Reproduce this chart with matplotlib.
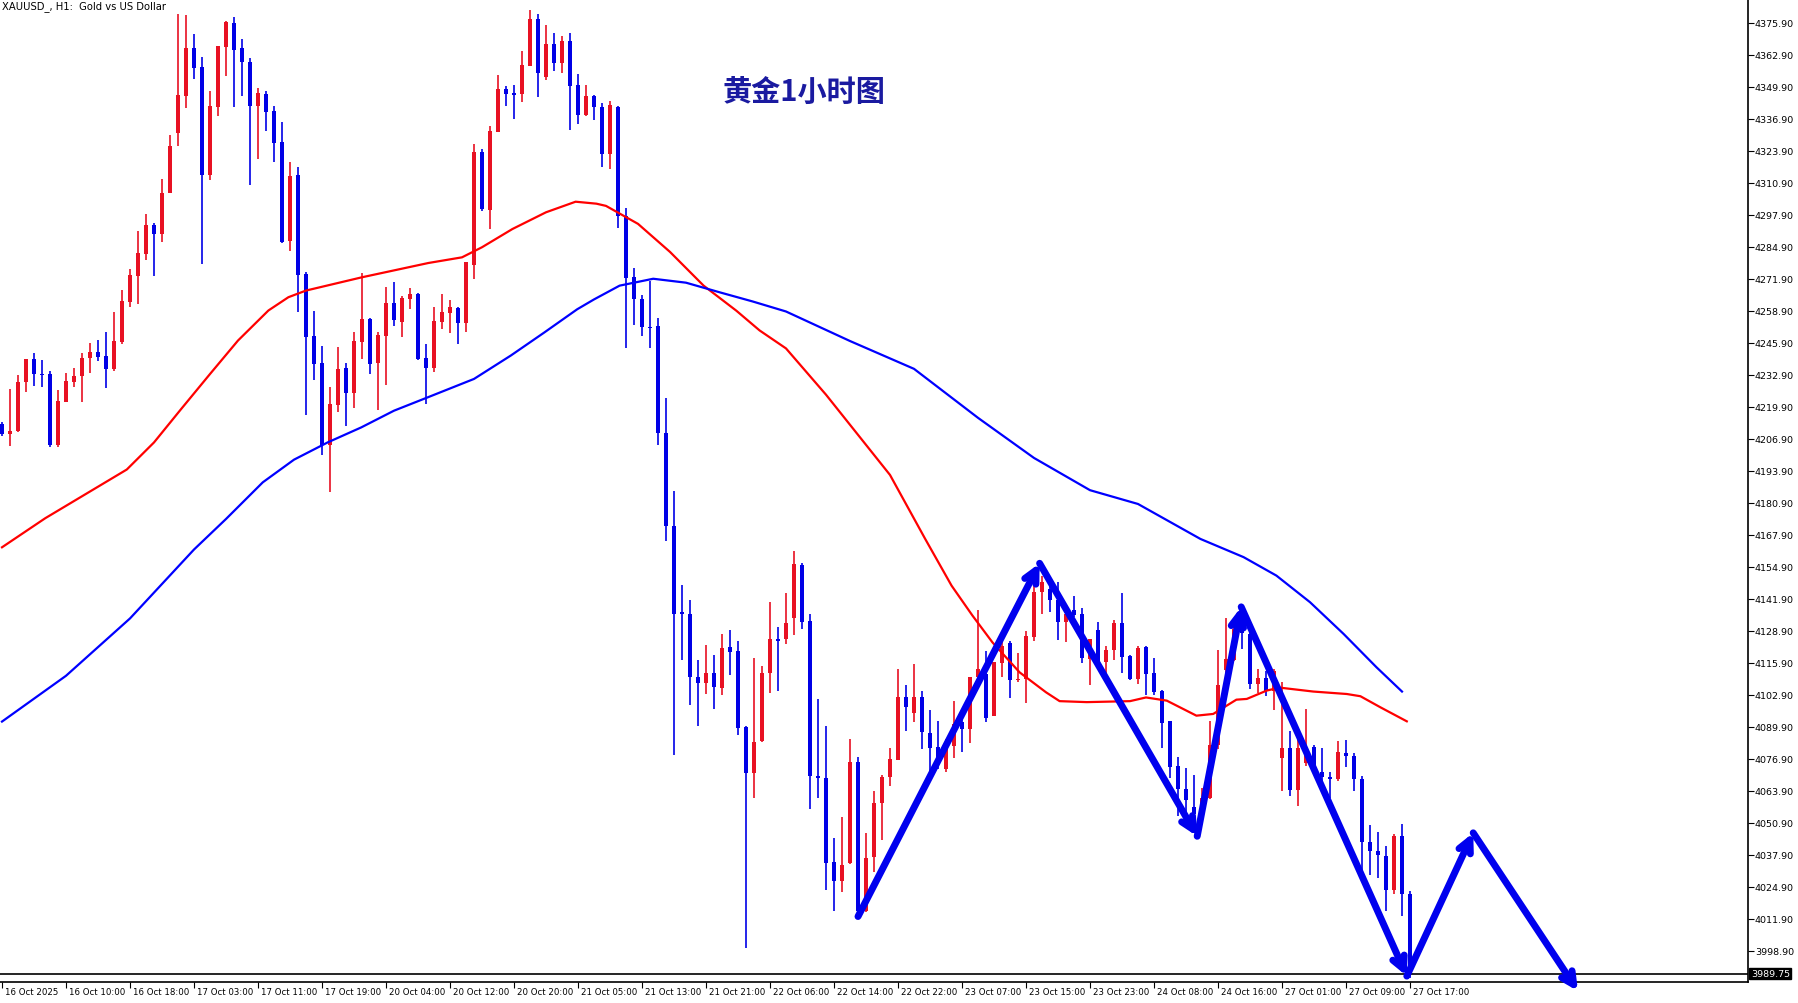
import matplotlib
matplotlib.use("Agg")
import matplotlib.pyplot as plt
import numpy as np

plt.rcParams['font.family'] = ['DejaVu Sans', 'Noto Sans CJK SC']

opens = [4213.0,4209.1,4210.2,4229.9,4239.4,4233.4,4233.3,4204.6,4222.1,4230.2,
4232.3,4239.7,4242.3,4240.6,4235.5,4246.2,4262.7,4273.3,4282.2,4293.9,
4290.3,4306.8,4331.4,4346.4,4365.7,4357.9,4314.0,4341.9,4366.3,4375.9,
4365.7,4360.1,4342.3,4347.1,4340.2,4327.6,4287.5,4314.2,4273.8,4248.6,
4237.6,4204.5,4220.9,4235.6,4225.7,4246.5,4255.7,4237.9,4248.9,4262.2,
4254.6,4263.9,4265.8,4239.8,4235.9,4254.6,4258.2,4260.1,4254.2,4277.7,
4323.4,4300.1,4331.8,4349.1,4347.3,4347.2,4358.6,4377.5,4354.1,4367.4,
4359.8,4368.6,4350.7,4338.7,4346.4,4341.8,4322.6,4341.8,4297.5,4272.9,
4263.8,4252.3,4252.8,4209.4,4171.6,4136.4,4136.0,4110.4,4107.9,4111.8,
4105.8,4122.3,4120.9,4089.9,4071.4,4084.4,4111.8,4125.5,4125.5,4134.3,
4155.7,4133.0,4069.9,4069.1,4035.0,4027.5,4034.6,4075.6,4015.0,4037.0,
4058.9,4069.4,4076.5,4102.1,4095.5,4102.1,4087.5,4081.8,4072.9,4082.1,
4091.8,4089.1,4110.1,4111.5,4094.5,4115.9,4124.1,4108.9,4109.4,4126.6,
4144.6,4146.0,4141.3,4132.5,4137.5,4135.8,4117.6,4129.2,4116.2,4121.3,
4132.2,4118.9,4109.2,4122.2,4111.9,4104.7,4092.4,4074.1,4064.8,4057.3,
4054.5,4061.0,4082.4,4113.2,4117.3,4131.1,4127.7,4107.3,4109.7,4104.7,
4077.2,4081.3,4064.5,4075.3,4081.7,4071.5,4069.6,4068.8,4079.2,4078.0,
4068.8,4043.1,4039.4,4037.4,4023.5,4045.5,4022.0]
highs = [4213.7,4227.2,4232.9,4239.4,4241.9,4239.0,4234.5,4226.9,4233.7,4235.8,
4241.9,4245.9,4247.1,4250.5,4258.4,4267.4,4276.0,4291.5,4298.3,4294.7,
4312.5,4330.4,4379.6,4379.2,4371.4,4362.0,4348.3,4366.6,4376.8,4378.2,
4369.4,4361.5,4349.6,4348.3,4342.3,4335.8,4319.3,4317.5,4274.6,4258.9,
4244.7,4228.0,4244.2,4237.8,4250.5,4274.3,4256.1,4250.5,4268.7,4270.7,
4265.1,4268.3,4266.2,4245.5,4260.5,4265.8,4263.4,4260.5,4278.7,4326.7,
4324.7,4334.1,4354.8,4350.2,4350.7,4364.5,4381.2,4379.6,4375.1,4371.8,
4370.7,4371.8,4355.2,4350.7,4346.8,4343.4,4344.1,4342.3,4300.7,4276.5,
4265.6,4271.1,4256.0,4223.6,4185.7,4147.4,4141.4,4117.0,4123.2,4119.3,
4127.8,4129.3,4125.0,4090.1,4117.9,4114.7,4140.5,4130.7,4144.2,4161.3,
4156.5,4135.7,4101.3,4090.2,4044.8,4053.4,4085.1,4077.6,4046.9,4063.9,
4070.4,4081.4,4113.5,4107.0,4115.5,4104.6,4096.7,4092.4,4085.1,4100.4,
4093.2,4110.2,4137.6,4120.8,4116.5,4125.3,4125.0,4120.0,4128.9,4147.3,
4151.4,4147.3,4148.7,4139.2,4143.3,4138.3,4125.7,4132.7,4122.7,4133.5,
4144.4,4119.2,4123.0,4122.7,4118.1,4105.1,4092.4,4077.6,4073.1,4070.4,
4065.0,4092.4,4121.1,4134.3,4133.8,4135.8,4131.1,4113.5,4112.8,4113.5,
4108.3,4088.2,4085.3,4097.1,4082.4,4081.3,4071.5,4084.2,4084.5,4079.4,
4069.9,4050.1,4047.1,4041.7,4046.5,4050.4,4023.3]
lows = [4208.3,4204.2,4209.6,4225.9,4228.6,4227.9,4203.5,4203.5,4221.8,4228.2,
4221.8,4233.6,4238.7,4227.5,4234.7,4245.4,4260.4,4261.6,4279.8,4273.3,
4287.1,4306.7,4326.1,4341.2,4353.2,4278.0,4312.3,4338.2,4354.5,4341.9,
4346.4,4310.2,4320.7,4332.2,4319.6,4286.5,4283.4,4258.6,4216.7,4231.0,
4200.2,4185.5,4217.7,4212.3,4219.6,4239.4,4233.3,4218.8,4229.0,4253.0,
4248.5,4259.7,4239.0,4221.1,4234.3,4251.6,4250.0,4245.5,4250.5,4271.9,
4299.4,4292.2,4331.8,4342.3,4336.9,4343.9,4358.6,4346.0,4352.9,4356.5,
4355.7,4332.6,4334.9,4338.0,4336.5,4317.2,4316.7,4292.5,4243.7,4253.3,
4248.7,4243.7,4204.4,4165.6,4078.7,4117.2,4098.8,4090.5,4103.3,4097.4,
4102.9,4110.9,4086.7,4000.0,4060.9,4083.9,4103.8,4104.5,4123.6,4127.3,
4129.7,4056.4,4061.2,4023.5,4015.0,4023.0,4034.3,4014.0,4014.6,4030.9,
4043.8,4066.1,4076.3,4088.3,4092.1,4081.0,4068.8,4072.9,4071.8,4077.3,
4079.6,4083.4,4109.7,4092.1,4094.5,4110.1,4101.7,4108.1,4099.7,4125.0,
4135.8,4136.8,4125.4,4124.6,4134.5,4115.9,4107.1,4115.9,4110.8,4117.3,
4111.9,4108.9,4107.5,4102.7,4102.7,4081.3,4069.3,4053.9,4055.3,4053.9,
4053.9,4060.7,4081.0,4109.4,4116.9,4121.6,4105.4,4103.7,4102.4,4096.6,
4063.8,4061.8,4058.0,4074.2,4071.5,4063.4,4061.2,4068.1,4073.7,4063.7,
4029.5,4029.8,4028.7,4015.3,4022.1,4013.0,3988.0]
closes = [4208.9,4210.2,4229.9,4239.4,4233.4,4233.0,4204.6,4222.3,4230.5,4232.5,
4239.8,4242.3,4240.4,4235.5,4246.7,4263.0,4273.5,4282.5,4293.9,4290.3,
4306.8,4325.9,4346.7,4365.7,4357.7,4314.0,4342.2,4366.6,4376.4,4365.1,
4360.2,4342.3,4347.3,4339.9,4327.3,4286.9,4313.8,4273.7,4248.5,4237.5,
4204.5,4221.0,4235.4,4225.7,4246.7,4255.7,4237.5,4249.2,4262.2,4255.4,
4264.2,4265.8,4239.6,4235.9,4254.9,4258.4,4260.4,4254.2,4278.7,4323.4,
4300.5,4331.9,4349.1,4347.2,4346.8,4358.8,4377.5,4355.7,4367.4,4359.8,
4368.6,4350.5,4338.7,4346.1,4341.8,4322.6,4342.7,4297.5,4272.4,4263.8,
4252.3,4251.9,4209.4,4171.6,4136.0,4136.0,4110.4,4107.9,4112.0,4106.3,
4121.8,4120.2,4089.4,4071.4,4083.9,4111.8,4125.5,4125.0,4132.3,4156.1,
4132.7,4069.8,4069.1,4034.6,4027.5,4033.7,4075.6,4015.0,4036.6,4059.1,
4069.6,4076.9,4102.1,4098.2,4102.1,4087.8,4081.5,4076.9,4081.7,4091.0,
4089.1,4110.2,4113.5,4093.6,4116.5,4122.6,4108.8,4109.4,4126.9,4144.6,
4148.7,4141.3,4132.7,4135.8,4135.4,4118.1,4125.7,4116.2,4121.2,4132.2,
4118.5,4109.2,4122.0,4111.3,4104.3,4091.7,4073.7,4064.8,4060.3,4054.5,
4061.0,4082.4,4107.0,4117.6,4129.7,4128.1,4107.3,4109.8,4104.7,4112.8,
4081.3,4064.2,4081.3,4081.3,4072.9,4069.5,4068.8,4079.6,4078.0,4068.8,
4043.1,4039.4,4037.7,4023.5,4045.5,4022.0,3989.75]

ma_red_idx = [0,5.4,10.5,15.6,19,22.4,26,29.5,33.3,35.8,38,45,53.3,57.5,60,63.8,68,71.7,
              74.3,75.5,79.5,83.5,87.7,91.8,94.7,98,103,111,115.4,118.7,121.3,123.8,127.2,
              130.5,132.2,135.6,141,143,145.6,149.3,151.4,154.3,155.6,158.1,159.7,163.9,
              168.1,169.8,172.3,175.6]
ma_red_val = [4162.9,4174.7,4184.6,4194.5,4205.5,4219.1,4233.3,4246.9,4259.1,4264.5,4267.2,
              4272.6,4278.4,4280.7,4284.8,4292.2,4299.0,4303.3,4302.5,4301.6,4294.3,4282.9,
              4269.2,4259.0,4251.0,4243.7,4224.9,4192.3,4166.3,4147.3,4135.2,4124.3,4112.1,
              4104.0,4100.4,4100.0,4100.4,4101.9,4100.6,4094.5,4095.2,4101.0,4101.3,4104.7,
              4105.9,4104.3,4103.3,4102.4,4097.9,4092.2]
ma_blue_idx = [0,8,16,24,28,32.6,36.5,40.7,44.9,49,53.2,59,63.6,67.8,71.9,74,77.2,81.4,85.5,
               89.7,93.8,98,106,114,122,129,136,142,149.8,155.2,159.3,163.5,167.7,171.8,175]
ma_blue_val = [4092.1,4110.7,4134.0,4162.0,4174.4,4189.3,4198.5,4205.5,4211.6,4218.4,4223.8,
               4231.3,4240.8,4250.2,4259.6,4263.6,4269.2,4272.0,4270.4,4266.5,4262.8,4258.7,
               4246.7,4235.4,4215.5,4199.2,4186.1,4180.5,4166.3,4158.9,4151.4,4140.6,4127.7,
               4114.2,4104.3]

date_labels = ["16 Oct 2025","16 Oct 10:00","16 Oct 18:00","17 Oct 03:00","17 Oct 11:00","17 Oct 19:00",
               "20 Oct 04:00","20 Oct 12:00","20 Oct 20:00","21 Oct 05:00","21 Oct 13:00","21 Oct 21:00",
               "22 Oct 06:00","22 Oct 14:00","22 Oct 22:00","23 Oct 07:00","23 Oct 15:00","23 Oct 23:00",
               "24 Oct 08:00","24 Oct 16:00","27 Oct 01:00","27 Oct 09:00","27 Oct 17:00"]
price_ticks = [3998.9 + 13 * k for k in range(30)]
current_price = 3989.75

# hand-drawn wave arrows (bar index, price)
wave_x = [107, 129.7, 149.4, 154.9, 175.6, 183.9, 197]
wave_y = [4012.9, 4156.4, 4045.5, 4138.7, 3988.7, 4046.9, 3982.6]

RED = "#e81123"
BLUE = "#0000e6"

W, H = 1799, 1004
fig = plt.figure(figsize=(W/100, H/100), dpi=100)
ax = fig.add_axes([0, 21/H, 1748/W, 1 - 21/H])

n = len(closes)
idx = np.arange(n)
o = np.array(opens); c = np.array(closes); h = np.array(highs); l = np.array(lows)
up = c >= o
cols = np.where(up, RED, BLUE)
ax.vlines(idx, l, h, colors=cols, linewidth=1.2, zorder=2)
bot = np.minimum(o, c); height = np.maximum(np.abs(c - o), 0.5)
ax.bar(idx, height, bottom=bot, width=0.62, color=cols, linewidth=0, zorder=3)

ax.plot(ma_red_idx, ma_red_val, color="#ff0000", lw=1.6, zorder=4)
ax.plot(ma_blue_idx, ma_blue_val, color="#0000ff", lw=1.6, zorder=4)

ax.axhline(current_price, color="black", lw=1.2, zorder=5)

for i in range(len(wave_x) - 1):
    ax.annotate("", xy=(wave_x[i+1], wave_y[i+1]), xytext=(wave_x[i], wave_y[i]),
                arrowprops=dict(arrowstyle="->,head_length=0.9,head_width=0.45", color="#0000ee",
                                lw=5, shrinkA=0, shrinkB=0, capstyle="round", joinstyle="round"),
                zorder=6, annotation_clip=False)

ax.set_xlim(-0.25, 218.25)
ax.set_ylim(3986.3, 4385.65)
for s in ["left", "top"]:
    ax.spines[s].set_visible(False)
ax.spines["right"].set_linewidth(1.2)
ax.spines["bottom"].set_linewidth(1.2)
ax.yaxis.tick_right()
ax.set_yticks(price_ticks)
ax.set_yticklabels([f"{p:.2f}" for p in price_ticks], fontsize=6.8)
ax.tick_params(axis="y", length=4, width=0.8, pad=1)
ax.set_xticks(np.arange(0, 177, 8))
ax.set_xticklabels([])
ax.tick_params(axis="x", length=4, width=0.8)
for k, lab in enumerate(date_labels):
    ax.text(8 * k + 0.4, 3986.3 - 2.2, lab, fontsize=6.2, ha="left", va="top", clip_on=False)

ax.text(218.6, current_price, f"{current_price:.2f}", fontsize=6.8, color="white", ha="left",
        va="center", transform=ax.transData, clip_on=False,
        bbox=dict(boxstyle="square,pad=0.15", fc="black", ec="black"))

fig.text(2/W, 1 - 7/H, "XAUUSD_, H1:  Gold vs US Dollar", fontsize=7.2, ha="left", va="center")
fig.text(804/W, 1 - 92/H, "黄金1小时图", fontsize=21, fontweight="bold", color="#1a1aa0",
         ha="center", va="center", family=["Noto Sans CJK SC", "DejaVu Sans"])

fig.savefig("out.png", dpi=100)
